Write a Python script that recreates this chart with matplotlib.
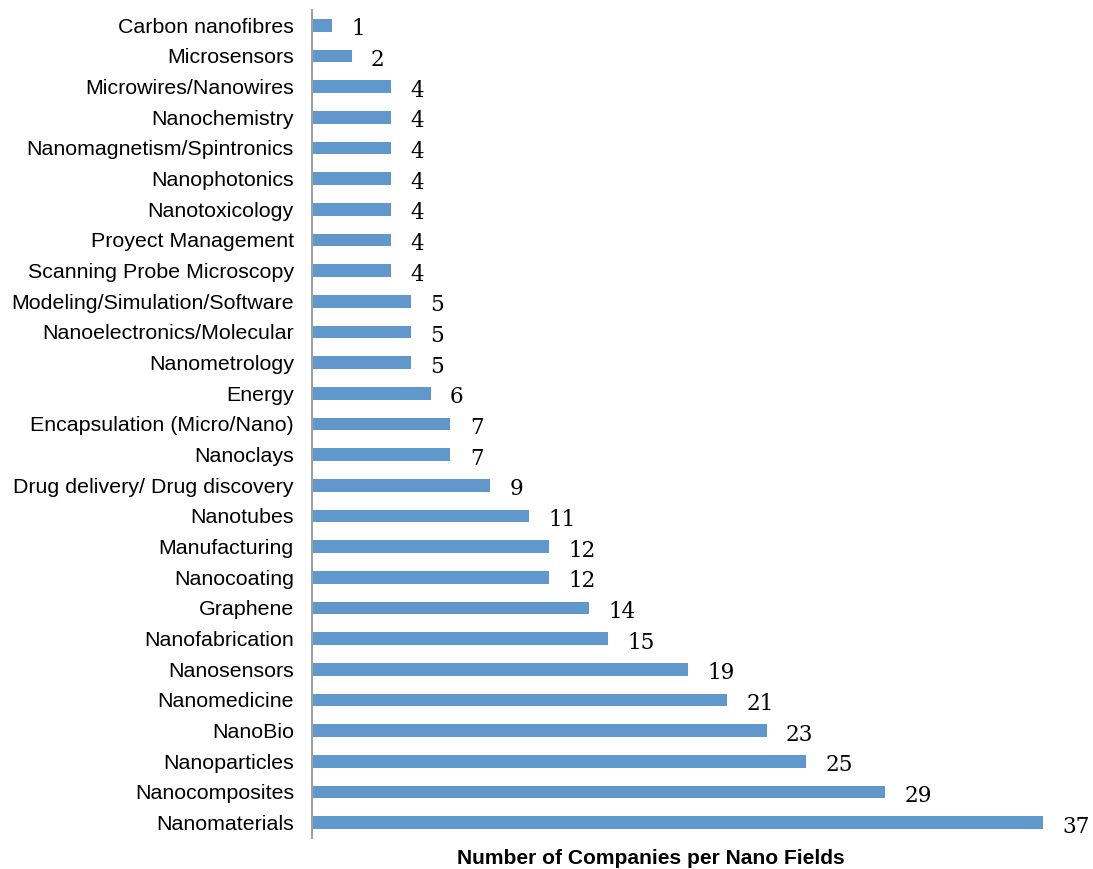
import matplotlib
matplotlib.use("Agg")
import matplotlib.pyplot as plt

fields = [
    "Carbon nanofibres", "Microsensors", "Microwires/Nanowires", "Nanochemistry",
    "Nanomagnetism/Spintronics", "Nanophotonics", "Nanotoxicology",
    "Proyect Management", "Scanning Probe Microscopy",
    "Modeling/Simulation/Software", "Nanoelectronics/Molecular", "Nanometrology",
    "Energy", "Encapsulation (Micro/Nano)", "Nanoclays",
    "Drug delivery/ Drug discovery", "Nanotubes", "Manufacturing", "Nanocoating",
    "Graphene", "Nanofabrication", "Nanosensors", "Nanomedicine", "NanoBio",
    "Nanoparticles", "Nanocomposites", "Nanomaterials",
]
companies = [1, 2, 4, 4, 4, 4, 4, 4, 4, 5, 5, 5, 6, 7, 7, 9, 11, 12, 12, 14,
             15, 19, 21, 23, 25, 29, 37]

fig = plt.figure(figsize=(10.93, 8.69), dpi=100)
ax = fig.add_axes([0.2855, 0.0357, 0.7045, 0.9528])

pos = list(range(len(fields)))[::-1]
ax.barh(pos, companies, height=0.42, color="#6097cc", edgecolor="none")

for p, v in zip(pos, companies):
    ax.annotate(str(v), (v, p), xytext=(14, -3), textcoords="offset points",
                ha="left", va="center", fontsize=15.5, family="DejaVu Serif")

ax.set_ylim(-0.5, len(fields) - 0.5)
ax.set_xlim(0, 770 / 19.76)
ax.set_yticks(pos)
ax.set_yticklabels(fields, fontsize=15.4, family="Liberation Sans")
ax.tick_params(axis="y", length=0, pad=13)
ax.set_xticks([])
for s in ["top", "right", "bottom"]:
    ax.spines[s].set_visible(False)
ax.spines["left"].set_color("#a0a0a0")
ax.spines["left"].set_linewidth(1.5)

fig.text(651 / 1093, 1 - 858 / 869, "Number of Companies per Nano Fields",
         ha="center", va="center", fontsize=15.1, fontweight="bold",
         family="Liberation Sans")

fig.savefig("out.png", dpi=100)
